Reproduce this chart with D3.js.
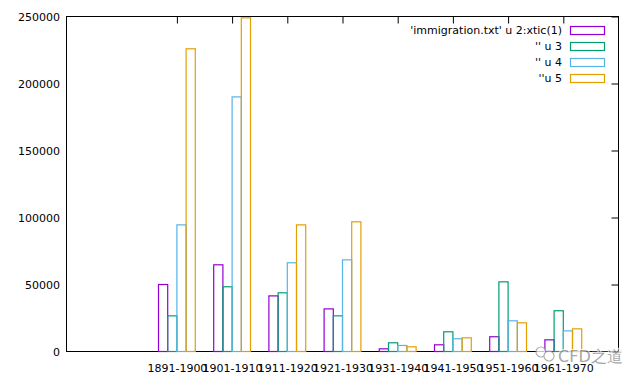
<!DOCTYPE html>
<html>
<head>
<meta charset="utf-8">
<script src="https://d3js.org/d3.v7.min.js"></script>
<style>
  body { margin: 0; background: #fff; }
  text { font-family: "DejaVu Sans", sans-serif; }
</style>
</head>
<body>
<div id="chart-area"></div>
<script>
// data
var decades = ["1891-1900", "1901-1910", "1911-1920", "1921-1930",
               "1931-1940", "1941-1950", "1951-1960", "1961-1970"];
var col2 = [50000, 64700, 41500, 31800, 2000, 5000, 11000, 8700];
var col3 = [26600, 48300, 43800, 26600, 6500, 14700, 52000, 30400];
var col4 = [94500, 190000, 66200, 68400, 4500, 9500, 22900, 15400];
var col5 = [225900, 249000, 94500, 96800, 3500, 10200, 21400, 16900];
var seriesNames = ["'immigration.txt' u 2:xtic(1)", "'' u 3", "'' u 4", "''u 5"];
var colors = ["#9400d3", "#009e73", "#56b4e9", "#e69f00"];
var yTicks = [0, 50000, 100000, 150000, 200000, 250000];

var series = [col2, col3, col4, col5];

var W = 640, H = 384;
var plotL = 66.5, plotR = 618.5, plotT = 16.5, plotB = 351.5;

var svg = d3.select("#chart-area")
  .append("svg")
    .attr("width", W)
    .attr("height", H);

// gnuplot histogram: categories at 0..7, xrange -2..8
var x = d3.scaleLinear().domain([-2, 8]).range([plotL, plotR]);
var y = d3.scaleLinear().domain([0, 250000]).range([plotB, plotT]);
var bw = 1 / 6; // box width with gap 2 and 4 series

// y labels on the left, no tick marks
var yAxis = svg.append("g")
  .attr("transform", "translate(" + plotL + ",0)")
  .call(d3.axisLeft(y).tickValues(yTicks).tickSize(0).tickPadding(6.5).tickFormat(d3.format("d")));
yAxis.select(".domain").remove();
yAxis.selectAll("text").attr("font-size", "11px").attr("font-family", "DejaVu Sans").attr("fill", "#000");

// x labels
var xAxis = svg.append("g")
  .attr("transform", "translate(0," + plotB + ")")
  .call(d3.axisBottom(x).tickValues(d3.range(decades.length)).tickSize(0).tickPadding(13)
        .tickFormat(function (d) { return decades[d]; }));
xAxis.select(".domain").remove();
xAxis.selectAll("text").attr("font-size", "11px").attr("font-family", "DejaVu Sans").attr("fill", "#000");

// mirrored ticks on top and right, pointing inward
var topAxis = svg.append("g")
  .attr("transform", "translate(0," + plotT + ")")
  .call(d3.axisTop(x).tickValues(d3.range(decades.length)).tickSize(-7).tickFormat(""));
topAxis.select(".domain").remove();
topAxis.selectAll("line").attr("stroke", "#000");

var rightAxis = svg.append("g")
  .attr("transform", "translate(" + plotR + ",0)")
  .call(d3.axisRight(y).tickValues(yTicks).tickSize(-7).tickFormat(""));
rightAxis.select(".domain").remove();
rightAxis.selectAll("line").attr("stroke", "#000");

// border
svg.append("rect")
  .attr("x", plotL).attr("y", plotT)
  .attr("width", plotR - plotL).attr("height", plotB - plotT)
  .attr("fill", "none").attr("stroke", "#000").attr("stroke-width", 1);

// bars, outlines only
series.forEach(function (vals, j) {
  svg.append("g").selectAll("rect")
    .data(vals)
    .enter()
    .append("rect")
      .attr("x", function (d, i) { return x(i + (j - 2) * bw); })
      .attr("y", function (d) { return y(d); })
      .attr("width", function (d, i) { return x(i + (j - 1) * bw) - x(i + (j - 2) * bw); })
      .attr("height", function (d) { return y(0) - y(d); })
      .attr("fill", "none")
      .attr("stroke", colors[j])
      .attr("stroke-width", 1.2);
});

// legend
var legend = svg.append("g");
seriesNames.forEach(function (name, j) {
  var cy = 30.5 + j * 16;
  legend.append("text")
    .attr("x", 562).attr("y", cy)
    .attr("dy", "0.35em")
    .attr("text-anchor", "end")
    .attr("font-size", "11px")
    .attr("fill", "#000")
    .text(name);
  legend.append("rect")
    .attr("x", 570.5).attr("y", cy - 4)
    .attr("width", 34).attr("height", 8)
    .attr("fill", "none")
    .attr("stroke", colors[j])
    .attr("stroke-width", 1.2);
});

// watermark
var wm = svg.append("g").attr("opacity", 0.75);
wm.append("circle").attr("cx", 541).attr("cy", 352).attr("r", 5)
  .attr("fill", "#fff").attr("stroke", "#999").attr("stroke-width", 1.2);
wm.append("circle").attr("cx", 549).attr("cy", 356).attr("r", 5)
  .attr("fill", "#fff").attr("stroke", "#999").attr("stroke-width", 1.2);
wm.append("text")
  .attr("x", 558).attr("y", 362)
  .attr("font-family", "'Noto Sans CJK SC', 'Noto Sans', sans-serif")
  .attr("font-size", "16px")
  .attr("fill", "#8a8a8a")
  .attr("stroke", "#fff").attr("stroke-width", 2).attr("paint-order", "stroke")
  .text("CFD之道");
</script>
</body>
</html>
